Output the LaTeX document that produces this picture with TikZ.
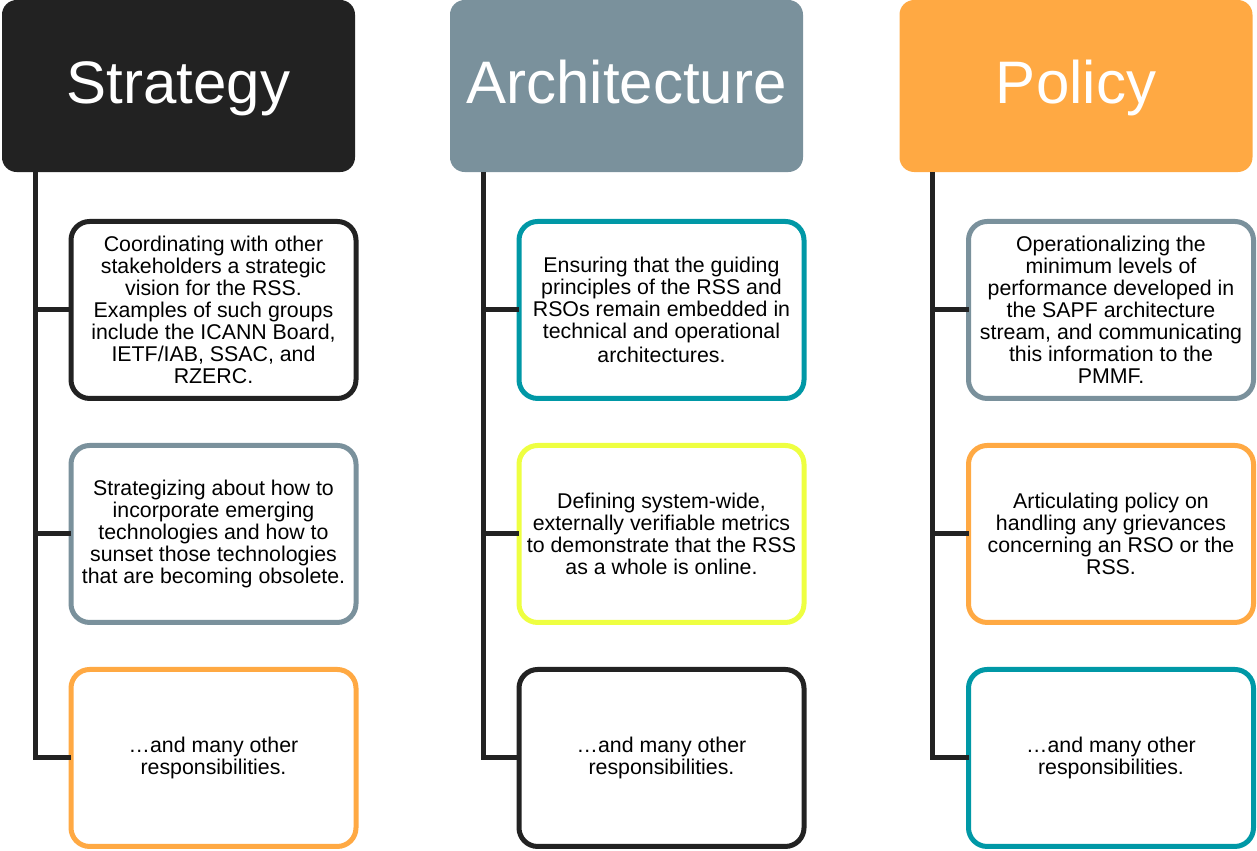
\documentclass[tikz,border=0pt]{standalone}
\usepackage{fontspec}
\setmainfont{Liberation Sans}
\usetikzlibrary{positioning}
\definecolor{ink}{HTML}{222222}
\definecolor{slate}{HTML}{7A919C}
\definecolor{amber}{HTML}{FFA943}
\definecolor{teal}{HTML}{0098A6}
\definecolor{lime}{HTML}{EEFF41}
\tikzstyle{head} = [rectangle, rounded corners=11pt, minimum width=264.75pt, minimum height=129pt, inner sep=0pt, outer sep=0pt, text=white, font=\fontsize{45}{54}\selectfont, text height=33.75pt, text depth=8.1pt]
\tikzstyle{task} = [draw, rectangle, rounded corners=14pt, line width=3.75pt, fill=white, minimum width=213.75pt, minimum height=132.75pt, inner sep=0pt, outer sep=0pt, align=center, font=\fontsize{16}{16.5}\selectfont]
\tikzstyle{trunk} = [draw=ink, line width=3.75pt]
\tikzstyle{coord} = [coordinate]

\begin{document}
\begin{tikzpicture}[node distance=35.25pt]
    \useasboundingbox (0,0) rectangle (942.75pt,-637.5pt);

    % headers
    \node [head, fill=ink] (strat) at (133.875pt,-64.5pt) {Strategy};
    \node [head, fill=slate] (arch) at (469.875pt,-64.5pt) {Architecture};
    \node [head, fill=amber] (policy) at (807pt,-64.5pt) {Policy};

    % strategy column
    \node [task, draw=ink, below = 37.1pt of strat, xshift=26.25pt] (strat1) {Coordinating with other\\stakeholders a strategic\\vision for the RSS.\\Examples of such groups\\include the ICANN Board,\\IETF/IAB, SSAC, and\\RZERC.};
    \node [task, draw=slate, below = of strat1] (strat2) {Strategizing about how to\\incorporate emerging\\technologies and how to\\sunset those technologies\\that are becoming obsolete.};
    \node [task, draw=amber, below = of strat2] (strat3) {…and many other\\responsibilities.};

    % architecture column
    \node [task, draw=teal, below = 37.1pt of arch, xshift=26.25pt] (arch1) {Ensuring that the guiding\\principles of the RSS and\\RSOs remain embedded in\\technical and operational\\[2pt]architectures.};
    \node [task, draw=lime, below = of arch1] (arch2) {Defining system-wide,\\externally verifiable metrics\\to demonstrate that the RSS\\as a whole is online.};
    \node [task, draw=ink, below = of arch2] (arch3) {…and many other\\responsibilities.};

    % policy column
    \node [task, draw=slate, below = 37.1pt of policy, xshift=26.25pt] (policy1) {Operationalizing the\\minimum levels of\\performance developed in\\the SAPF architecture\\stream, and communicating\\this information to the\\PMMF.};
    \node [task, draw=amber, below = of policy1] (policy2) {Articulating policy on\\handling any grievances\\concerning an RSO or the\\RSS.};
    \node [task, draw=teal, below = of policy2] (policy3) {…and many other\\responsibilities.};

    % trunks and branches
    \node [coord, right = 24.75pt of strat.south west] (strat-t) {};
    \node [coord, right = 24.75pt of arch.south west] (arch-t) {};
    \node [coord, right = 24.75pt of policy.south west] (policy-t) {};

    \draw [trunk] (strat-t) |- (strat3.west);
    \draw [trunk] (strat-t |- strat1.west) -- (strat1.west);
    \draw [trunk] (strat-t |- strat2.west) -- (strat2.west);

    \draw [trunk] (arch-t) |- (arch3.west);
    \draw [trunk] (arch-t |- arch1.west) -- (arch1.west);
    \draw [trunk] (arch-t |- arch2.west) -- (arch2.west);

    \draw [trunk] (policy-t) |- (policy3.west);
    \draw [trunk] (policy-t |- policy1.west) -- (policy1.west);
    \draw [trunk] (policy-t |- policy2.west) -- (policy2.west);
\end{tikzpicture}
\end{document}
